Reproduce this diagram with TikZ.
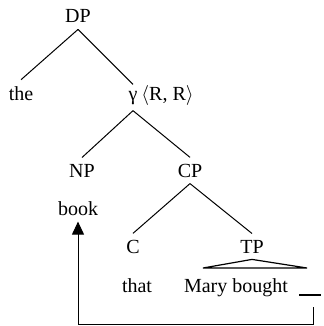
\documentclass[tikz,border=0pt]{standalone}
\usepackage{fontspec}
\setmainfont{Liberation Serif}
\usetikzlibrary{arrows.meta,positioning,calc}

\begin{document}
\begin{tikzpicture}[
    x=0.5pt, y=-0.5pt,
    cat/.style={anchor=base, inner sep=3pt, font=\fontsize{10}{12}\selectfont},
    branch/.style={line width=0.5pt},
    arr/.style={-{Triangle[width=6pt,length=6.5pt]}, line width=0.5pt}
]
\useasboundingbox (0,0) rectangle (323,326);
% tree nodes
\node[cat] (dp) at (78,23) {DP};
\node[cat] (the) at (21,100) {the};
\node[cat] (gam) at (133,100) {γ};
\node[cat, anchor=base west, inner sep=0pt] (feat) at (141,100) {$\langle$R, R$\rangle$};
\node[cat] (np) at (82,177) {NP};
\node[cat] (cp) at (190,177) {CP};
\node[cat] (book) at (78,215) {book};
\node[cat] (c) at (133,253) {C};
\node[cat] (tp) at (252,253) {TP};
\node[cat] (that) at (137,292) {that};
\node[cat] (mary) at (236,292) {Mary bought};
\coordinate (tpl) at (203,268);
\coordinate (tpr) at (307,268);
\coordinate (gapl) at (299,295);
\coordinate (gapr) at (321,295);
\coordinate (trace) at (313,307);

% branches
\draw[branch] (dp.south) -- (the.north);
\draw[branch] (dp.south) -- (gam.north);
\draw[branch] (gam.south) -- (np.north);
\draw[branch] (gam.south) -- (cp.north);
\draw[branch] (cp.south) -- (c.north);
\draw[branch] (cp.south) -- (tp.north);
\draw[branch, line width=0.6pt] (tp.south) -- (tpl) -- (tpr) -- cycle;

% gap and movement
\draw[line width=1pt] (gapl) -- (gapr);
\draw[arr] (trace) -- ++(0,17) -| (book.south);
\end{tikzpicture}
\end{document}
